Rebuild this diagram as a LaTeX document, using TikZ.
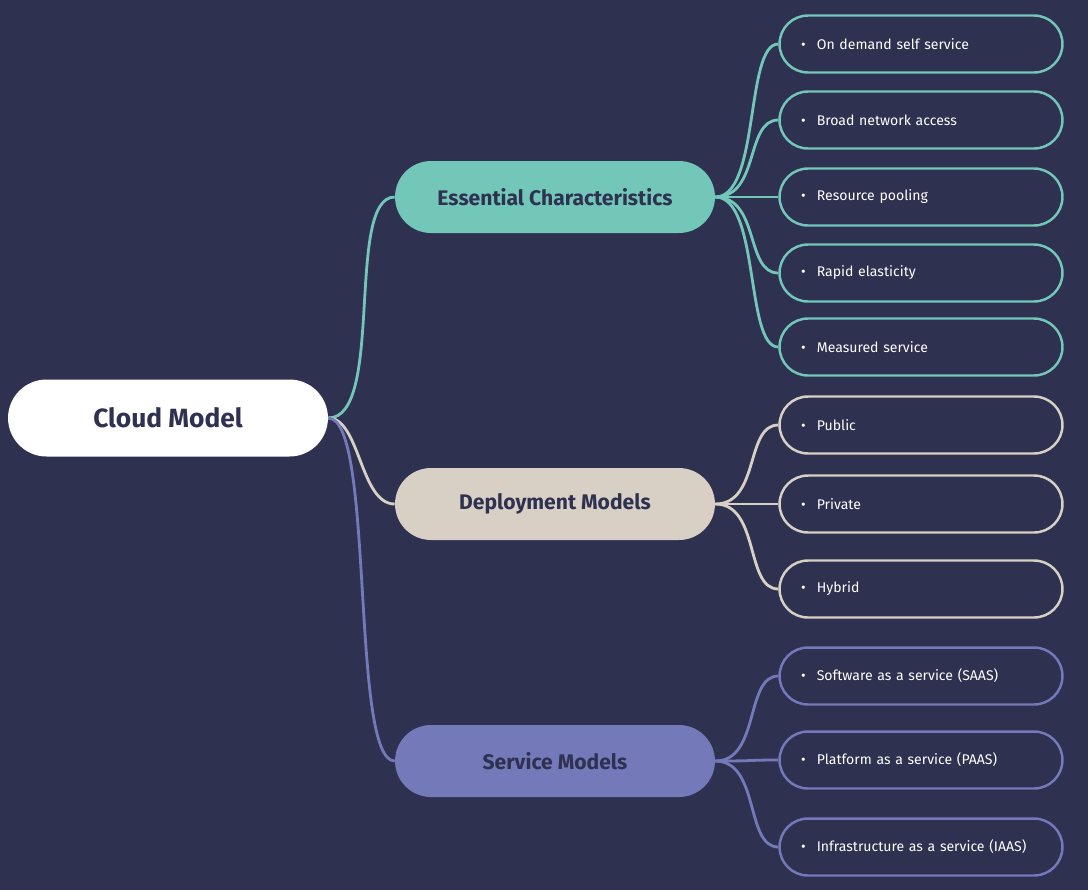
\documentclass[tikz,border=0pt]{standalone}
\usepackage{fontspec}
\setmainfont{Fira Sans}
\usetikzlibrary{positioning}
\definecolor{bgcol}{HTML}{2E3150}
\definecolor{teal}{HTML}{72C7B9}
\definecolor{beige}{HTML}{D8D0C4}
\definecolor{lilac}{HTML}{7479BA}
\tikzset{
  rootbox/.style={fill=white,text=bgcol,rounded corners=0.77cm,minimum width=6.4cm,minimum height=1.54cm,font=\fontsize{15}{18}\selectfont\bfseries},
  midbox/.style={fill=#1,text=bgcol,rounded corners=0.72cm,minimum width=6.4cm,minimum height=1.44cm,font=\fontsize{12}{14}\selectfont\bfseries},
  leafbox/.style={draw=#1,line width=1.4pt,fill=bgcol,text=white,rounded corners=0.57cm,minimum width=5.66cm,minimum height=1.14cm,text width=4.8cm,align=left,font=\fontsize{8}{10}\selectfont},
  link/.style={draw=#1,line width=1.6pt}
}
\newcommand{\itm}[1]{\textbullet\hspace{0.8em}#1}
\begin{document}
\begin{tikzpicture}[x=0.02cm,y=-0.02cm]
\fill[bgcol] (0,0) rectangle (1088,890);
\node[rootbox] (root) at (168,418) {Cloud Model};
\node[midbox=teal] (ess) at (555,197) {Essential Characteristics};
\node[midbox=beige] (dep) at (555,504) {Deployment Models};
\node[midbox=lilac] (ser) at (555,761) {Service Models};
% leaves
\node[leafbox=teal] (e1) at (921,44) {\itm{On demand self service}};
\node[leafbox=teal] (e2) at (921,120) {\itm{Broad network access}};
\node[leafbox=teal] (e3) at (921,197) {\itm{Resource pooling}};
\node[leafbox=teal] (e4) at (921,273) {\itm{Rapid elasticity}};
\node[leafbox=teal] (e5) at (921,347) {\itm{Measured service}};
\node[leafbox=beige] (d1) at (921,425) {\itm{Public}};
\node[leafbox=beige] (d2) at (921,504) {\itm{Private}};
\node[leafbox=beige] (d3) at (921,589) {\itm{Hybrid}};
\node[leafbox=lilac] (s1) at (921,676) {\itm{Software as a service (SAAS)}};
\node[leafbox=lilac] (s2) at (921,760) {\itm{Platform as a service (PAAS)}};
\node[leafbox=lilac] (s3) at (921,847) {\itm{Infrastructure as a service (IAAS)}};
% links
\draw[link=teal] (root.east) .. controls (385,418) and (345,197) .. (ess.west);
\draw[link=beige] (root.east) .. controls (360,418) and (360,504) .. (dep.west);
\draw[link=lilac] (root.east) .. controls (375,418) and (350,761) .. (ser.west);
\foreach \n in {e1,e2,e3,e4,e5}
  \draw[link=teal] (ess.east) .. controls (760,197) and (745,0|-\n.west) .. (\n.west);
\foreach \n in {d1,d2,d3}
  \draw[link=beige] (dep.east) .. controls (760,504) and (745,0|-\n.west) .. (\n.west);
\foreach \n in {s1,s2,s3}
  \draw[link=lilac] (ser.east) .. controls (760,761) and (745,0|-\n.west) .. (\n.west);
\end{tikzpicture}
\end{document}
